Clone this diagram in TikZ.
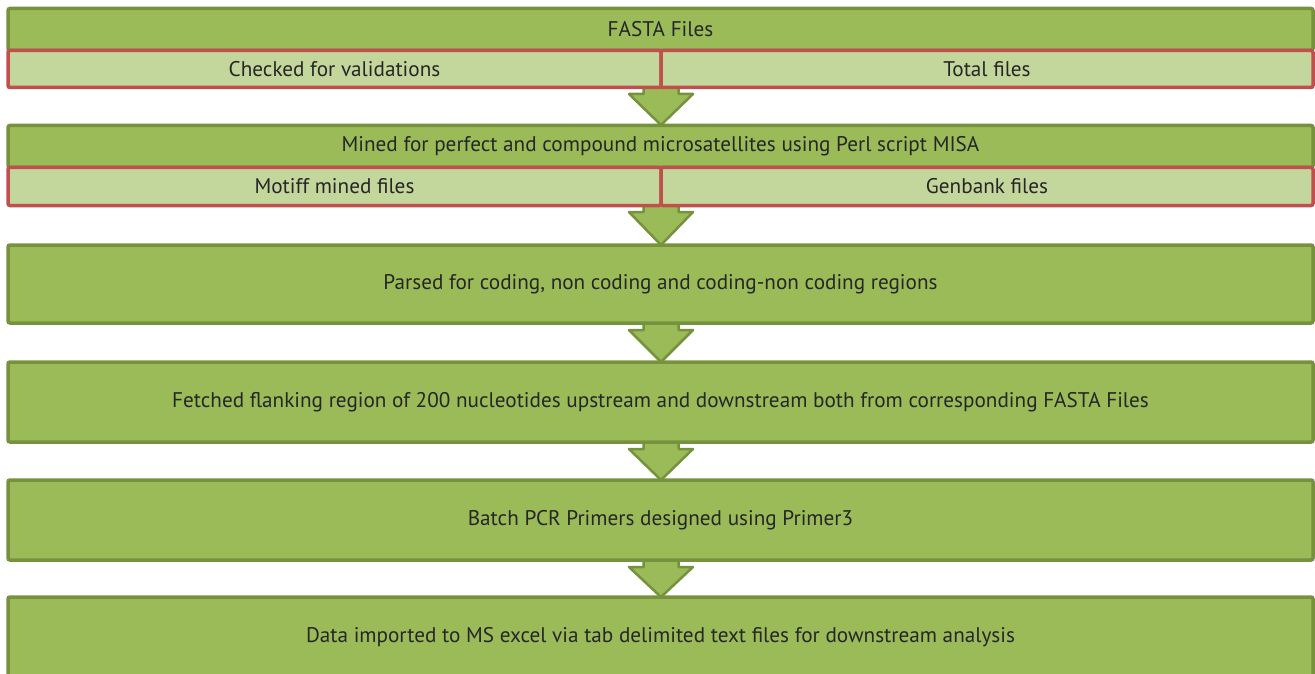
\documentclass[tikz,border=0pt]{standalone}
\usepackage{fontspec}
\setmainfont{PT Sans}
\usetikzlibrary{calc}
\definecolor{gfill}{HTML}{9BBB59}
\definecolor{gline}{HTML}{76923C}
\definecolor{sfill}{HTML}{C3D69B}
\definecolor{rline}{HTML}{C0504D}
\definecolor{txt}{HTML}{262626}
\tikzset{
  mainbox/.style={draw=gline, fill=gfill, line width=3.5pt, rounded corners=2pt, inner sep=0pt, text=txt, font=\fontsize{21.2}{25}\selectfont},
  subbox/.style={draw=rline, fill=sfill, line width=3.5pt, rounded corners=2pt, inner sep=0pt, text=txt, font=\fontsize{21.2}{25}\selectfont},
  bigarrow/.style={draw=gline, fill=gfill, line width=2.5pt, line join=round},
}
\newcommand{\flowarrow}[2]{%
  \draw[bigarrow] ($(#1)+(-17.5,-2)$) -- ($(#1)+(-17.5,7)$) -- ($(#1)+(-32,7)$) -- (#2)
    -- ($(#1)+(32,7)$) -- ($(#1)+(17.5,7)$) -- ($(#1)+(17.5,-2)$);}
\begin{document}
\begin{tikzpicture}[x=1pt,y=-1pt]
\useasboundingbox[fill=white] (0,0) rectangle (1315,674);
% coordinates for arrow ends
\coordinate (a1s) at (661,87);
\coordinate (a1e) at (661,125);
\coordinate (a2s) at (661,205);
\coordinate (a2e) at (661,245);
\coordinate (a3s) at (661,323);
\coordinate (a3e) at (661,362);
\coordinate (a4s) at (661,442);
\coordinate (a4e) at (661,480);
\coordinate (a5s) at (661,560);
\coordinate (a5e) at (661,597);
\flowarrow{a1s}{a1e}
\flowarrow{a2s}{a2e}
\flowarrow{a3s}{a3e}
\flowarrow{a4s}{a4e}
\flowarrow{a5s}{a5e}
% box 1
\node[mainbox, minimum width=1305pt, minimum height=42pt] (b1) at (660.5,29.5) {FASTA Files};
\node[subbox, minimum width=653pt, minimum height=37pt] (b1l) at (334.5,69) {Checked for validations};
\node[subbox, minimum width=652pt, minimum height=37pt] (b1r) at (987,69) {Total files};
% box 2
\node[mainbox, minimum width=1305pt, minimum height=42pt] (b2) at (660.5,146.5) {Mined for perfect and compound microsatellites using Perl script MISA};
\node[subbox, minimum width=653pt, minimum height=38pt] (b2l) at (334.5,186.5) {Motiff mined files};
\node[subbox, minimum width=652pt, minimum height=38pt] (b2r) at (987,186.5) {Genbank files};
% boxes 3-6
\node[mainbox, minimum width=1305pt, minimum height=78pt] (b3) at (660.5,284) {Parsed for coding, non coding and coding-non coding regions};
\node[mainbox, minimum width=1305pt, minimum height=80pt] (b4) at (660.5,402) {Fetched flanking region of 200 nucleotides upstream and downstream both from corresponding FASTA Files};
\node[mainbox, minimum width=1305pt, minimum height=80pt] (b5) at (660.5,520) {Batch PCR Primers designed using Primer3};
\node[mainbox, minimum width=1305pt, minimum height=80pt] (b6) at (660.5,637) {Data imported to MS excel via tab delimited text files for downstream analysis};
\end{tikzpicture}
\end{document}
